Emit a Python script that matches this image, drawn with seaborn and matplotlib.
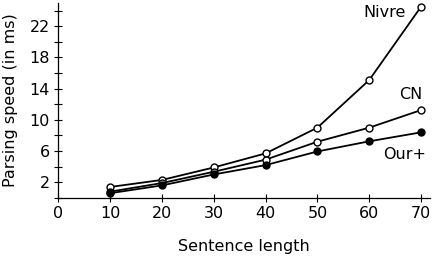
import matplotlib
matplotlib.use("Agg")
import matplotlib.pyplot as plt
import seaborn as sns
import pandas as pd
from matplotlib.ticker import MultipleLocator

lengths = [10, 20, 30, 40, 50, 60, 70]
nivre = [1.4, 2.3, 3.9, 5.7, 9.0, 15.1, 24.5]
cn = [0.8, 1.9, 3.35, 4.9, 7.2, 9.0, 11.25]
our_plus = [0.6, 1.6, 3.0, 4.2, 5.95, 7.25, 8.4]
series_names = ["Nivre", "CN", "Our+"]

sns.set_style("ticks")
plt.rcParams['font.family'] = ['DejaVu Sans']
plt.rcParams['text.color'] = 'black'
plt.rcParams['axes.labelcolor'] = 'black'
plt.rcParams['xtick.color'] = 'black'
plt.rcParams['ytick.color'] = 'black'

fs = 11.5
fig = plt.figure(figsize=(4.32, 2.56), dpi=100)
ax = fig.add_axes([0.135, 0.227, 0.86, 0.762])

styles = {"Nivre": "white", "CN": "white", "Our+": "black"}
for name, vals in zip(series_names, [nivre, cn, our_plus]):
    df = pd.DataFrame({"x": lengths, "y": vals})
    sns.lineplot(data=df, x="x", y="y", ax=ax, color="black", linewidth=1.3,
                 marker="o", markersize=5, markerfacecolor=styles[name],
                 markeredgecolor="black", markeredgewidth=1.0, zorder=3)

ax.set_xlim(0, 71.7)
ax.set_ylim(0, 25)
ax.set_xticks([0, 10, 20, 30, 40, 50, 60, 70])
ax.set_yticks([2, 6, 10, 14, 18, 22])
ax.yaxis.set_minor_locator(MultipleLocator(2))
ax.tick_params(axis="both", which="both", direction="inout", color="black", width=0.8)
ax.tick_params(axis="both", which="major", length=6, labelsize=fs, pad=3)
ax.tick_params(axis="y", which="minor", length=6)
for s in ["top", "right"]:
    ax.spines[s].set_visible(False)
for s in ["left", "bottom"]:
    ax.spines[s].set_color("black")
    ax.spines[s].set_linewidth(0.9)

ax.set_xlabel("Sentence length", fontsize=fs, labelpad=13)
ax.set_ylabel("Parsing speed (in ms)", fontsize=fs, labelpad=8)

ax.text(63, 23.8, "Nivre", fontsize=fs, ha="center", va="center")
ax.text(68, 13.3, "CN", fontsize=fs, ha="center", va="center")
ax.text(66.9, 5.6, "Our+", fontsize=fs, ha="center", va="center")

fig.savefig("out.png", dpi=100)
